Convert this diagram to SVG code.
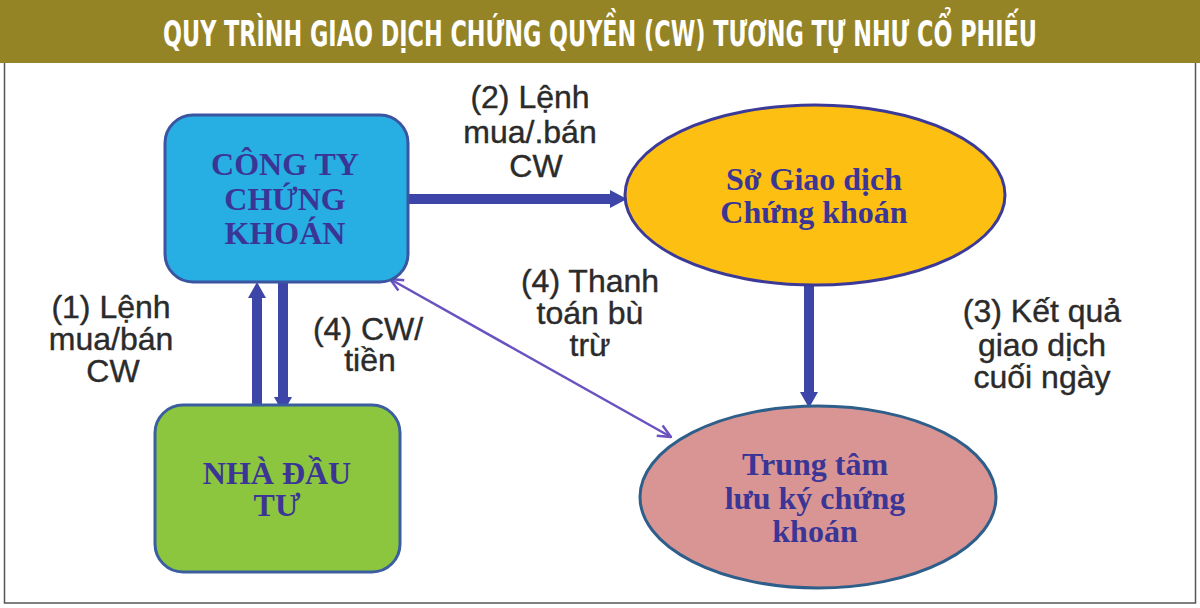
<svg xmlns="http://www.w3.org/2000/svg" width="1200" height="608" viewBox="0 0 1200 608">
<defs>
<style>
.title{font-family:"Liberation Sans Narrow","DejaVu Sans Condensed","Liberation Sans",sans-serif;font-weight:bold;font-size:36px;fill:#ffffff;text-anchor:middle}
.node{font-family:"Liberation Serif","DejaVu Serif",serif;font-weight:bold;font-size:32px;fill:#3b3596;text-anchor:middle}
.lbl{font-family:"Liberation Sans","Arial",sans-serif;font-size:32px;fill:#2b2b2b;stroke:#2b2b2b;stroke-width:0.4;text-anchor:middle}
.thick{stroke:#3d45a8;stroke-width:10;fill:none}
.head{fill:#3d45a8}
.thin{stroke:#6a52c0;stroke-width:2.5;fill:none}
</style>
<marker id="vee" viewBox="0 0 16 16" refX="15" refY="8" markerWidth="16" markerHeight="16" orient="auto-start-reverse" markerUnits="userSpaceOnUse">
<path d="M2,2 L15,8 L2,14" fill="none" stroke="#6a52c0" stroke-width="2.5"/>
</marker>
</defs>
<rect x="0" y="0" width="1200" height="608" fill="#ffffff"/>
<rect x="4.5" y="1" width="1191" height="602" fill="none" stroke="#555555" stroke-width="1.5"/>
<g id="header">
<rect x="0" y="0" width="1200" height="63" fill="#958426"/>
<text class="title" x="600" y="46" textLength="874" lengthAdjust="spacingAndGlyphs">QUY TRÌNH GIAO DỊCH CHỨNG QUYỀN (CW) TƯƠNG TỰ NHƯ CỔ PHIẾU</text>
</g>
<g id="connectors">
<line class="thick" x1="408" y1="199" x2="612" y2="199"/>
<polygon class="head" points="610,190 627,199 610,208"/>
<line class="thick" x1="809" y1="285" x2="809" y2="394"/>
<polygon class="head" points="800,392 809,408 818,392"/>
<line class="thick" x1="257" y1="405" x2="257" y2="296"/>
<polygon class="head" points="248,298 257,282 266,298"/>
<line class="thick" x1="283" y1="282" x2="283" y2="399"/>
<polygon class="head" points="274,397 283,413 292,397"/>
<line class="thin" x1="390" y1="279" x2="671" y2="437" marker-start="url(#vee)" marker-end="url(#vee)"/>
</g>
<g id="node-congty">
<rect x="165" y="115" width="243" height="167" rx="28" fill="#27aee3" stroke="#3b55a0" stroke-width="3"/>
<text class="node"><tspan x="285" y="175">CÔNG TY</tspan><tspan x="285" y="210">CHỨNG</tspan><tspan x="285" y="244">KHOÁN</tspan></text>
</g>
<g id="node-nhadautu">
<rect x="155" y="405" width="245" height="167" rx="28" fill="#8cc63f" stroke="#3b5ea0" stroke-width="3"/>
<text class="node"><tspan x="277" y="484">NHÀ ĐẦU</tspan><tspan x="277" y="516">TƯ</tspan></text>
</g>
<g id="node-sgd">
<ellipse cx="815" cy="195" rx="190" ry="90" fill="#fdbf12" stroke="#3c3a99" stroke-width="3"/>
<text class="node"><tspan x="814" y="190">Sở Giao dịch</tspan><tspan x="814" y="223">Chứng khoán</tspan></text>
</g>
<g id="node-ttlk">
<ellipse cx="818" cy="497" rx="178" ry="91" fill="#d99594" stroke="#2e5f8a" stroke-width="3"/>
<text class="node"><tspan x="815" y="475">Trung  tâm</tspan><tspan x="815" y="509">lưu ký chứng</tspan><tspan x="815" y="542">khoán</tspan></text>
</g>
<g id="labels">
<text class="lbl"><tspan x="530" y="108">(2) Lệnh</tspan><tspan x="530" y="143">mua/.bán</tspan><tspan x="536" y="177">CW</tspan></text>
<text class="lbl"><tspan x="111" y="318">(1) Lệnh</tspan><tspan x="111" y="350">mua/bán</tspan><tspan x="113" y="382">CW</tspan></text>
<text class="lbl"><tspan x="368" y="340">(4) CW/</tspan><tspan x="370" y="371">tiền</tspan></text>
<text class="lbl"><tspan x="590" y="292">(4) Thanh</tspan><tspan x="590" y="324">toán bù</tspan><tspan x="590" y="356">trừ</tspan></text>
<text class="lbl"><tspan x="1042" y="322">(3) Kết quả</tspan><tspan x="1042" y="356">giao dịch</tspan><tspan x="1042" y="388">cuối ngày</tspan></text>
</g>
</svg>
